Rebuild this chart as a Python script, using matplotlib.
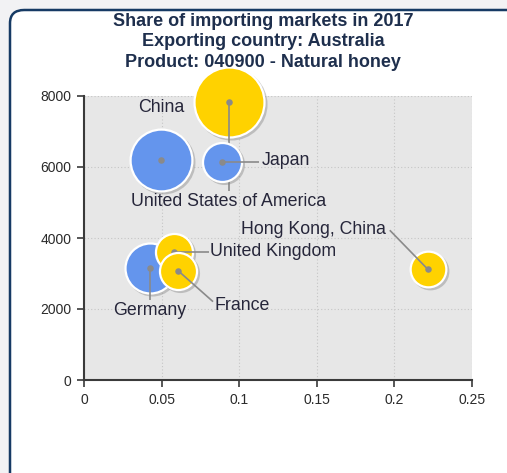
import matplotlib
matplotlib.use("Agg")
import matplotlib.pyplot as plt
import matplotlib.transforms as mtransforms
from matplotlib.patches import FancyBboxPatch
import numpy as np

# ---- data ----
labels = ["United States of America", "China", "Japan", "Germany",
          "United Kingdom", "France", "Hong Kong, China"]
share = [0.0932, 0.0495, 0.0891, 0.0426, 0.0580, 0.0606, 0.2215]
value = [7830, 6200, 6150, 3150, 3610, 3080, 3120]
bubble_size = [100, 78, 31, 51, 28, 28, 26]
colors = ["#FFD200", "#6495ED", "#6495ED", "#6495ED", "#FFD200", "#FFD200", "#FFD200"]
# label anchor offsets (pixels from bubble centre) and text alignment
label_dx = [0, 0, 37, 0, 35, 35, -38]
label_dy = [-89, 0, 0, -32, 0, -31, 39]
text_dx = [0, 0, 2, 0, 1, 1, -4]
text_dy = [-10, 52, 1, -10, 0, -4, 1]
text_ha = ["center", "center", "left", "center", "left", "left", "right"]
draw_leader = [True, False, True, True, True, True, True]

xticks = [0, 0.05, 0.1, 0.15, 0.2, 0.25]
xticklabels = ["0", "0.05", "0.1", "0.15", "0.2", "0.25"]
yticks = [0, 2000, 4000, 6000, 8000]

title = ("Share of importing markets in 2017\n"
         "Exporting country: Australia\n"
         "Product: 040900 - Natural honey")

W, H, DPI = 507, 473, 100
plt.rcParams['font.family'] = ['Liberation Sans', 'DejaVu Sans']
fig = plt.figure(figsize=(W / DPI, H / DPI), dpi=DPI)
fig.patch.set_facecolor("#F2F2F4")

# framed panel
frame = FancyBboxPatch((10 / W, -20 / H), (W + 30) / W, (H + 10) / H,
                       boxstyle="round,pad=0,rounding_size=0.028",
                       transform=fig.transFigure, facecolor="white",
                       edgecolor="#163A64", linewidth=1.8, zorder=-5)
fig.patches.append(frame)

ax = fig.add_axes([84 / W, 1 - 380 / H, 388 / W, 284 / H])
ax.set_zorder(2)
ax.set_facecolor("#E7E7E7")
ax.set_xlim(0, 0.25)
ax.set_ylim(0, 8000)
ax.set_xticks(xticks)
ax.set_xticklabels(xticklabels)
ax.set_yticks(yticks)
ax.grid(True, color="#C6C6C6", linestyle=(0, (1, 2)), linewidth=0.8)
ax.set_axisbelow(True)
for s in ["top", "right"]:
    ax.spines[s].set_visible(False)
for s in ["left", "bottom"]:
    ax.spines[s].set_color("#3A3A3A")
    ax.spines[s].set_linewidth(1.5)
ax.tick_params(direction="out", length=5, width=1.2, color="#3A3A3A",
               labelsize=10, labelcolor="#2A2A2A", pad=4)

fig.text(0.519, 1 - 42 / H, title, ha="center", va="center",
         fontsize=13, fontweight="bold", color="#1E2F4D", linespacing=1.3)

rmax = 35.0  # px radius of largest bubble
vmax = max(bubble_size)
shadow_tr = mtransforms.offset_copy(ax.transData, fig=fig, x=2.0, y=-2.0, units="dots")

for i in range(len(labels)):
    r_px = rmax * np.sqrt(bubble_size[i] / vmax)
    d_pt = 2 * r_px * 72 / DPI
    z = 3 + i
    ax.scatter([share[i]], [value[i]], s=(d_pt + 1.5) ** 2, color="#808080",
               alpha=0.4, linewidths=0, transform=shadow_tr, zorder=z, clip_on=False)
    ax.scatter([share[i]], [value[i]], s=d_pt ** 2, color=colors[i],
               edgecolors="white", linewidths=1.6, zorder=z + 0.1, clip_on=False)
    # leader line in pixel offsets
    cx, cy = ax.transData.transform((share[i], value[i]))
    if draw_leader[i]:
        ex, ey = cx + label_dx[i], cy + label_dy[i]
        (x0, y0), (x1, y1) = ax.transData.inverted().transform([(cx, cy), (ex, ey)])
        ax.plot([x0, x1], [y0, y1], color="#8A8A8A", linewidth=1.2, zorder=z + 0.2,
                solid_capstyle="butt", clip_on=False)
    ax.scatter([share[i]], [value[i]], s=22, color="#8A8A8A", linewidths=0,
               zorder=z + 0.3, clip_on=False)
    tx, ty = cx + label_dx[i] + text_dx[i], cy + label_dy[i] + text_dy[i]
    if not draw_leader[i]:
        tx, ty = cx + text_dx[i], cy + text_dy[i]
    txd, tyd = ax.transData.inverted().transform((tx, ty))
    ax.text(txd, tyd, labels[i], ha=text_ha[i], va="center", fontsize=12.8,
            color="#26263A", zorder=20, clip_on=False)

fig.savefig("out.png", dpi=DPI, facecolor=fig.get_facecolor())
